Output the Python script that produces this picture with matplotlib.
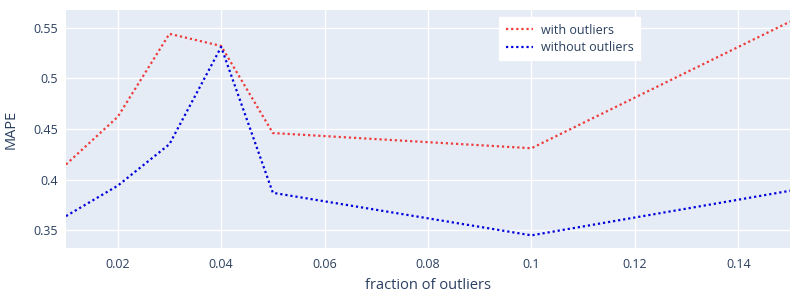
import matplotlib
matplotlib.use("Agg")
import matplotlib.pyplot as plt
from matplotlib.ticker import FuncFormatter

fraction = [0.01, 0.02, 0.03, 0.04, 0.05, 0.1, 0.15]
mape_with = [0.415, 0.462, 0.544, 0.532, 0.446, 0.431, 0.556]
mape_without = [0.364, 0.394, 0.435, 0.531, 0.387, 0.345, 0.389]

x_ticks = [0.02, 0.04, 0.06, 0.08, 0.1, 0.12, 0.14]
y_ticks = [0.35, 0.4, 0.45, 0.5, 0.55]

TEXT = '#2a3f5f'
plt.rcParams['font.family'] = ['Open Sans', 'DejaVu Sans']


def main():
    fig = plt.figure(figsize=(8, 3), dpi=100)
    ax = fig.add_axes([66 / 800, 52 / 300, 724 / 800, 238 / 300])
    ax.set_facecolor('#e5ecf6')

    dot = (0, (1, 1.3))
    ax.plot(fraction, mape_with, color='#ee3b3b', lw=1.6, ls=dot, label='with outliers')
    ax.plot(fraction, mape_without, color='#0000dd', lw=1.6, ls=dot, label='without outliers')

    ax.set_xlim(0.01, 0.15)
    ax.set_ylim(0.3325, 0.5675)
    ax.set_xticks(x_ticks)
    ax.set_yticks(y_ticks)
    fmt = FuncFormatter(lambda v, _: f'{v:g}')
    ax.xaxis.set_major_formatter(fmt)
    ax.yaxis.set_major_formatter(fmt)

    ax.grid(True, color='white', lw=1)
    ax.set_axisbelow(True)
    for s in ax.spines.values():
        s.set_visible(False)
    ax.tick_params(length=0, labelsize=9, labelcolor=TEXT)
    ax.tick_params(axis='x', pad=7)
    ax.tick_params(axis='y', pad=6)

    ax.set_xlabel('fraction of outliers', fontsize=10.5, color=TEXT, labelpad=5)
    ax.set_ylabel('MAPE', fontsize=10.5, color=TEXT, labelpad=10)

    leg = ax.legend(loc='upper left', bbox_to_anchor=(0.59, 0.995), frameon=True,
                    fancybox=False, fontsize=9, labelcolor=TEXT, handlelength=2.2,
                    borderpad=0.5, labelspacing=0.35, handletextpad=0.6)
    leg.get_frame().set_facecolor('white')
    leg.get_frame().set_edgecolor('white')
    leg.get_frame().set_alpha(1)

    fig.savefig('out.png', dpi=100)


if __name__ == "__main__":
    main()
